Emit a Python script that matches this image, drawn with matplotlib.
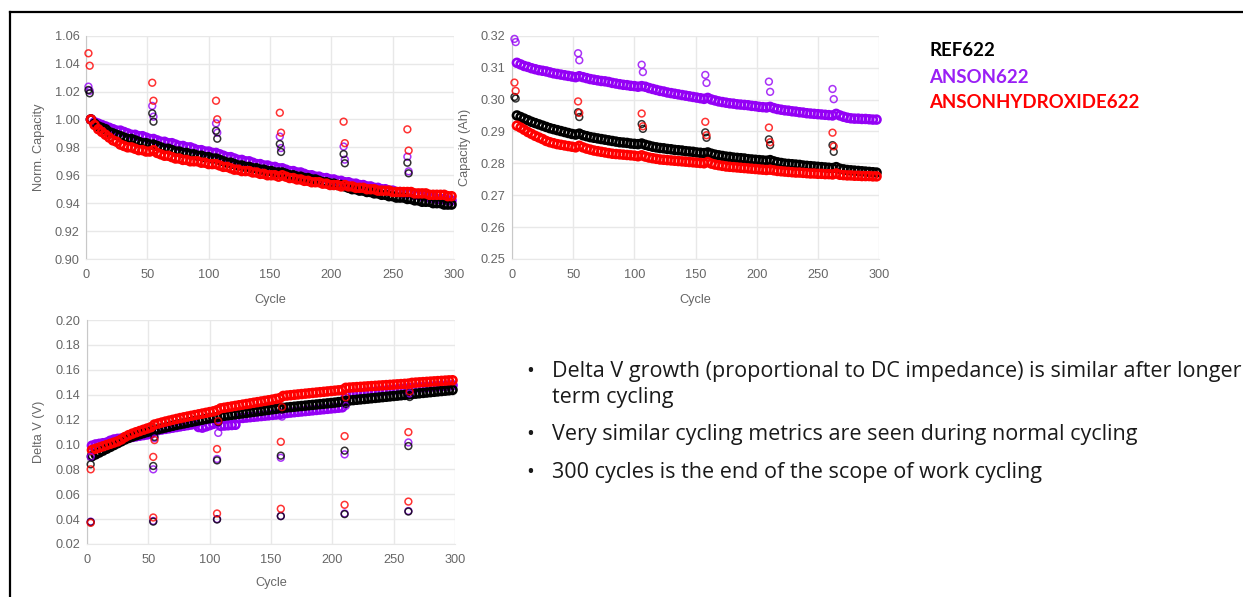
import matplotlib
matplotlib.use('Agg')
import matplotlib.pyplot as plt
from matplotlib.lines import Line2D
from matplotlib.ticker import FormatStrFormatter, MultipleLocator

# ---------------- data ----------------
SERIES = ['REF622', 'ANSON622', 'ANSONHYDROXIDE622']
COLORS = ['#000000', '#9400f5', '#ff0000']

CYCLES = list(range(4, 299, 3))

norm_ref = [1.000, 0.997, 0.995, 0.994, 0.993, 0.991, 0.990, 0.989, 0.988, 0.987, 0.986, 0.986, 0.985, 0.984, 0.983, 0.983, 0.982, 0.982,
            0.981, 0.980, 0.979, 0.979, 0.978, 0.977, 0.977, 0.976, 0.976, 0.975, 0.975, 0.974, 0.974, 0.973, 0.973, 0.972, 0.972,
            0.971, 0.970, 0.969, 0.969, 0.968, 0.967, 0.967, 0.966, 0.966, 0.965, 0.965, 0.964, 0.964, 0.963, 0.963, 0.962, 0.962,
            0.962, 0.961, 0.960, 0.960, 0.959, 0.959, 0.958, 0.958, 0.957, 0.957, 0.956, 0.955, 0.955, 0.954, 0.954, 0.953, 0.953,
            0.952, 0.951, 0.950, 0.950, 0.949, 0.949, 0.948, 0.948, 0.947, 0.947, 0.946, 0.946, 0.945, 0.945, 0.944, 0.944, 0.944,
            0.943, 0.943, 0.942, 0.942, 0.941, 0.941, 0.941, 0.940, 0.940, 0.940, 0.939, 0.939, 0.939]
norm_anson = [1.000, 0.998, 0.997, 0.996, 0.995, 0.994, 0.993, 0.992, 0.992, 0.991, 0.990, 0.989, 0.989, 0.988, 0.988, 0.987, 0.986, 0.986,
              0.985, 0.984, 0.984, 0.983, 0.983, 0.982, 0.981, 0.981, 0.980, 0.980, 0.979, 0.978, 0.978, 0.977, 0.977, 0.976, 0.976,
              0.975, 0.974, 0.973, 0.973, 0.972, 0.971, 0.971, 0.970, 0.970, 0.969, 0.968, 0.968, 0.967, 0.967, 0.966, 0.966, 0.965,
              0.965, 0.964, 0.963, 0.963, 0.962, 0.962, 0.961, 0.960, 0.960, 0.959, 0.959, 0.958, 0.958, 0.957, 0.957, 0.956, 0.956,
              0.955, 0.955, 0.954, 0.954, 0.953, 0.953, 0.952, 0.952, 0.951, 0.951, 0.950, 0.950, 0.949, 0.949, 0.948, 0.948, 0.947,
              0.947, 0.947, 0.946, 0.946, 0.945, 0.945, 0.944, 0.944, 0.943, 0.943, 0.943, 0.942, 0.942]
norm_hydrox = [1.000, 0.996, 0.993, 0.991, 0.989, 0.987, 0.985, 0.984, 0.982, 0.981, 0.980, 0.980, 0.979, 0.978, 0.978, 0.977, 0.977, 0.978,
               0.976, 0.975, 0.974, 0.974, 0.973, 0.972, 0.972, 0.971, 0.971, 0.970, 0.970, 0.970, 0.969, 0.969, 0.968, 0.968, 0.968,
               0.967, 0.966, 0.966, 0.965, 0.964, 0.964, 0.963, 0.963, 0.963, 0.962, 0.962, 0.961, 0.961, 0.960, 0.960, 0.960, 0.959,
               0.960, 0.959, 0.958, 0.958, 0.957, 0.957, 0.956, 0.956, 0.955, 0.955, 0.955, 0.954, 0.954, 0.953, 0.953, 0.953, 0.952,
               0.953, 0.952, 0.952, 0.951, 0.951, 0.951, 0.950, 0.950, 0.950, 0.949, 0.949, 0.949, 0.949, 0.948, 0.948, 0.948, 0.948,
               0.948, 0.948, 0.947, 0.947, 0.947, 0.947, 0.946, 0.946, 0.946, 0.946, 0.946, 0.945, 0.945]

cap_ref = [0.2950, 0.2945, 0.2940, 0.2935, 0.2930, 0.2926, 0.2922, 0.2918, 0.2914, 0.2910, 0.2907, 0.2904, 0.2901, 0.2898, 0.2895, 0.2892, 0.2890, 0.2893,
           0.2888, 0.2885, 0.2882, 0.2880, 0.2878, 0.2876, 0.2874, 0.2872, 0.2870, 0.2868, 0.2866, 0.2865, 0.2864, 0.2862, 0.2861, 0.2860, 0.2862,
           0.2858, 0.2855, 0.2852, 0.2850, 0.2848, 0.2847, 0.2845, 0.2844, 0.2842, 0.2841, 0.2840, 0.2838, 0.2837, 0.2836, 0.2834, 0.2833, 0.2832,
           0.2834, 0.2830, 0.2827, 0.2825, 0.2823, 0.2821, 0.2820, 0.2818, 0.2817, 0.2816, 0.2815, 0.2813, 0.2812, 0.2811, 0.2810, 0.2809, 0.2808,
           0.2810, 0.2806, 0.2803, 0.2801, 0.2799, 0.2798, 0.2797, 0.2796, 0.2795, 0.2793, 0.2792, 0.2791, 0.2790, 0.2789, 0.2788, 0.2787, 0.2786,
           0.2785, 0.2788, 0.2783, 0.2781, 0.2779, 0.2778, 0.2777, 0.2776, 0.2775, 0.2774, 0.2773, 0.2772, 0.2771]
cap_anson = [0.3115, 0.3110, 0.3105, 0.3102, 0.3098, 0.3095, 0.3092, 0.3090, 0.3088, 0.3085, 0.3082, 0.3080, 0.3078, 0.3076, 0.3074, 0.3072, 0.3070, 0.3073,
             0.3070, 0.3067, 0.3064, 0.3062, 0.3060, 0.3058, 0.3057, 0.3055, 0.3052, 0.3050, 0.3048, 0.3046, 0.3045, 0.3043, 0.3042, 0.3040, 0.3042,
             0.3040, 0.3036, 0.3033, 0.3030, 0.3027, 0.3025, 0.3022, 0.3020, 0.3018, 0.3016, 0.3014, 0.3012, 0.3010, 0.3008, 0.3006, 0.3004, 0.3002,
             0.3005, 0.3000, 0.2997, 0.2994, 0.2992, 0.2990, 0.2988, 0.2987, 0.2985, 0.2984, 0.2983, 0.2982, 0.2980, 0.2979, 0.2977, 0.2976, 0.2975,
             0.2977, 0.2973, 0.2970, 0.2968, 0.2966, 0.2965, 0.2963, 0.2962, 0.2960, 0.2959, 0.2957, 0.2956, 0.2955, 0.2954, 0.2953, 0.2952, 0.2951,
             0.2950, 0.2955, 0.2950, 0.2946, 0.2943, 0.2941, 0.2940, 0.2940, 0.2939, 0.2939, 0.2938, 0.2937, 0.2937]
cap_hydrox = [0.2918, 0.2912, 0.2905, 0.2898, 0.2892, 0.2886, 0.2881, 0.2876, 0.2870, 0.2866, 0.2863, 0.2860, 0.2858, 0.2856, 0.2854, 0.2852, 0.2850, 0.2855,
              0.2850, 0.2846, 0.2843, 0.2840, 0.2838, 0.2836, 0.2834, 0.2832, 0.2830, 0.2829, 0.2828, 0.2827, 0.2826, 0.2825, 0.2824, 0.2822, 0.2825,
              0.2821, 0.2818, 0.2816, 0.2814, 0.2812, 0.2811, 0.2810, 0.2809, 0.2808, 0.2807, 0.2806, 0.2805, 0.2804, 0.2803, 0.2802, 0.2801, 0.2800,
              0.2804, 0.2799, 0.2796, 0.2794, 0.2792, 0.2790, 0.2789, 0.2788, 0.2787, 0.2786, 0.2785, 0.2784, 0.2783, 0.2782, 0.2781, 0.2780, 0.2779,
              0.2780, 0.2778, 0.2776, 0.2775, 0.2774, 0.2773, 0.2772, 0.2771, 0.2771, 0.2770, 0.2769, 0.2768, 0.2768, 0.2767, 0.2767, 0.2766, 0.2766,
              0.2765, 0.2768, 0.2764, 0.2763, 0.2762, 0.2762, 0.2761, 0.2761, 0.2760, 0.2760, 0.2760, 0.2759, 0.2759]

dv_ref = [0.0905, 0.0920, 0.0935, 0.0950, 0.0965, 0.0980, 0.0995, 0.1010, 0.1025, 0.1040, 0.1052, 0.1063, 0.1073, 0.1082, 0.1091, 0.1100, 0.1107, 0.1115,
          0.1122, 0.1129, 0.1136, 0.1143, 0.1150, 0.1157, 0.1163, 0.1169, 0.1175, 0.1181, 0.1187, 0.1193, 0.1199, 0.1205, 0.1210, 0.1215, 0.1220,
          0.1225, 0.1230, 0.1234, 0.1238, 0.1242, 0.1246, 0.1250, 0.1254, 0.1258, 0.1262, 0.1266, 0.1270, 0.1274, 0.1278, 0.1282, 0.1286, 0.1290,
          0.1294, 0.1297, 0.1300, 0.1303, 0.1306, 0.1309, 0.1312, 0.1315, 0.1318, 0.1321, 0.1324, 0.1327, 0.1330, 0.1333, 0.1336, 0.1340, 0.1344,
          0.1350, 0.1353, 0.1356, 0.1359, 0.1362, 0.1365, 0.1368, 0.1371, 0.1374, 0.1377, 0.1380, 0.1383, 0.1386, 0.1389, 0.1392, 0.1395, 0.1398,
          0.1402, 0.1405, 0.1408, 0.1411, 0.1414, 0.1417, 0.1420, 0.1423, 0.1426, 0.1429, 0.1432, 0.1435, 0.1438]
dv_anson = [0.0990, 0.1000, 0.1005, 0.1010, 0.1015, 0.1030, 0.1040, 0.1045, 0.1048, 0.1052, 0.1056, 0.1060, 0.1065, 0.1070, 0.1075, 0.1080, 0.1085, 0.1110,
            0.1115, 0.1120, 0.1125, 0.1130, 0.1135, 0.1140, 0.1145, 0.1150, 0.1155, 0.1160, 0.1165, 0.1140, 0.1135, 0.1145, 0.1155, 0.1165, 0.1175,
            0.1150, 0.1152, 0.1154, 0.1156, 0.1158, 0.1210, 0.1213, 0.1216, 0.1219, 0.1222, 0.1225, 0.1228, 0.1231, 0.1234, 0.1237, 0.1240, 0.1243,
            0.1250, 0.1253, 0.1256, 0.1259, 0.1262, 0.1265, 0.1268, 0.1271, 0.1274, 0.1277, 0.1280, 0.1283, 0.1286, 0.1289, 0.1292, 0.1295, 0.1298,
            0.1400, 0.1403, 0.1406, 0.1409, 0.1412, 0.1415, 0.1418, 0.1421, 0.1424, 0.1427, 0.1430, 0.1433, 0.1436, 0.1439, 0.1442, 0.1445, 0.1448,
            0.1451, 0.1454, 0.1456, 0.1458, 0.1460, 0.1462, 0.1464, 0.1466, 0.1468, 0.1470, 0.1472, 0.1474, 0.1476]
dv_hydrox = [0.0955, 0.0965, 0.0975, 0.0985, 0.0995, 0.1005, 0.1015, 0.1025, 0.1040, 0.1060, 0.1075, 0.1087, 0.1098, 0.1108, 0.1118, 0.1128, 0.1138, 0.1160,
             0.1168, 0.1176, 0.1184, 0.1191, 0.1198, 0.1205, 0.1212, 0.1218, 0.1224, 0.1230, 0.1236, 0.1242, 0.1248, 0.1254, 0.1260, 0.1266, 0.1275,
             0.1290, 0.1295, 0.1300, 0.1305, 0.1310, 0.1315, 0.1320, 0.1325, 0.1330, 0.1335, 0.1340, 0.1345, 0.1350, 0.1355, 0.1360, 0.1366, 0.1372,
             0.1390, 0.1393, 0.1396, 0.1399, 0.1402, 0.1405, 0.1408, 0.1411, 0.1414, 0.1417, 0.1420, 0.1423, 0.1426, 0.1429, 0.1432, 0.1435, 0.1438,
             0.1455, 0.1457, 0.1459, 0.1461, 0.1463, 0.1465, 0.1467, 0.1469, 0.1471, 0.1473, 0.1475, 0.1477, 0.1479, 0.1481, 0.1483, 0.1485, 0.1487,
             0.1489, 0.1495, 0.1497, 0.1499, 0.1501, 0.1503, 0.1505, 0.1507, 0.1509, 0.1511, 0.1513, 0.1515, 0.1516]

# reference performance test (RPT) points
RPT_CYC = [2, 3, 54, 55, 106, 107, 158, 159, 210, 211, 262, 263]
norm_rpt_ref = [1.0211, 1.0187, 1.0044, 0.9984, 0.9919, 0.9862, 0.9824, 0.9767, 0.9752, 0.9686, 0.9690, 0.9614]
norm_rpt_anson = [1.0235, 1.0205, 1.0097, 1.0020, 0.9972, 0.9905, 0.9877, 0.9795, 0.9806, 0.9712, 0.9733, 0.9628]
norm_rpt_hydrox = [1.0474, 1.0385, 1.0263, 1.0134, 1.0134, 1.0001, 1.0048, 0.9905, 0.9984, 0.9830, 0.9929, 0.9777]
cap_rpt_ref = [0.3008, 0.3003, 0.2960, 0.2945, 0.2923, 0.2908, 0.2897, 0.2880, 0.2875, 0.2857, 0.2857, 0.2836]
cap_rpt_anson = [0.3190, 0.3180, 0.3145, 0.3123, 0.3109, 0.3086, 0.3077, 0.3052, 0.3056, 0.3024, 0.3033, 0.3001]
cap_rpt_hydrox = [0.3053, 0.3027, 0.2994, 0.2958, 0.2956, 0.2916, 0.2930, 0.2888, 0.2912, 0.2866, 0.2896, 0.2853]

DV_RPT_CYC = [3, 3, 54, 54, 55, 106, 106, 107, 158, 158, 159, 210, 210, 211, 262, 262, 263]
dv_rpt_ref = [0.0376, 0.0840, 0.0380, 0.0827, 0.1060, 0.0397, 0.0872, 0.1180, 0.0424, 0.0910, 0.1280, 0.0440, 0.0950, 0.1325, 0.0461, 0.0987, 0.1381]
dv_rpt_anson = [0.0380, 0.0900, 0.0385, 0.0800, 0.1050, 0.0400, 0.0883, 0.1093, 0.0425, 0.0893, 0.1224, 0.0445, 0.0920, 0.1310, 0.0465, 0.1016, 0.1410]
dv_rpt_hydrox = [0.0370, 0.0800, 0.0413, 0.0900, 0.1035, 0.0445, 0.0963, 0.1187, 0.0483, 0.1021, 0.1300, 0.0515, 0.1067, 0.1379, 0.0541, 0.1099, 0.1427]

BULLETS = [["Delta V growth (proportional to DC impedance) is similar after longer", "term cycling"],
           ["Very similar cycling metrics are seen during normal cycling"],
           ["300 cycles is the end of the scope of work cycling"]]

# ---------------- figure ----------------
W, H = 1243, 597
fig = plt.figure(figsize=(W / 100, H / 100), dpi=100)
GRAY = '#666666'
CHART_FONT = ['Liberation Sans', 'DejaVu Sans']


def px_axes(x0, y0, x1, y1):
    return fig.add_axes([x0 / W, 1 - y1 / H, (x1 - x0) / W, (y1 - y0) / H])


def style(ax, ylim, ystep, ylabel, ylab_x, xlab_y):
    ax.set_xlim(0, 300)
    ax.set_ylim(*ylim)
    ax.xaxis.set_major_locator(MultipleLocator(50))
    ax.yaxis.set_major_locator(MultipleLocator(ystep))
    ax.yaxis.set_major_formatter(FormatStrFormatter('%.2f'))
    ax.grid(True, color='#e8e8e8', lw=1)
    ax.set_axisbelow(True)
    for s in ['top', 'right']:
        ax.spines[s].set_visible(False)
    ax.spines['bottom'].set_color('#e8e8e8')
    ax.spines['left'].set_color('#c8c8c8')
    ax.tick_params(axis='both', length=0, colors=GRAY, labelsize=9.2)
    ax.tick_params(axis='y', pad=4.5)
    ax.tick_params(axis='x', pad=7.5)
    for lab in ax.get_xticklabels() + ax.get_yticklabels():
        lab.set_family(CHART_FONT)
    ax.set_ylabel(ylabel, color=GRAY, fontsize=9.2, family=CHART_FONT)
    ax.yaxis.set_label_coords(ylab_x, 0.5)
    ax.set_xlabel('Cycle', color=GRAY, fontsize=9.2, family=CHART_FONT, va='center')
    ax.xaxis.set_label_coords(0.5, xlab_y)


def draw(ax, main, rpt_x, rpt):
    order = [1, 0, 2]
    for i in order:
        ys = main[i]
        ax.scatter(CYCLES[:len(ys)], ys, s=32, facecolors='none', edgecolors=COLORS[i],
                   linewidths=1.9, clip_on=False, zorder=3)
    for i in order:
        ys = rpt[i]
        ax.scatter(rpt_x[:len(ys)], ys, s=24, facecolors='none', edgecolors=COLORS[i],
                   linewidths=1.1, alpha=0.8, clip_on=False, zorder=4)


ax1 = px_axes(86, 35.7, 454, 259)
style(ax1, (0.90, 1.06), 0.02, 'Norm. Capacity', -0.111, -0.182)
draw(ax1, [norm_ref, norm_anson, norm_hydrox], RPT_CYC, [norm_rpt_ref, norm_rpt_anson, norm_rpt_hydrox])

ax2 = px_axes(512, 35.7, 879, 259)
style(ax2, (0.25, 0.32), 0.01, 'Capacity (Ah)', -0.112, -0.182)
draw(ax2, [cap_ref, cap_anson, cap_hydrox], RPT_CYC, [cap_rpt_ref, cap_rpt_anson, cap_rpt_hydrox])

ax3 = px_axes(87, 320, 455, 544)
style(ax3, (0.02, 0.20), 0.02, 'Delta V (V)', -0.114, -0.175)
draw(ax3, [dv_ref, dv_anson, dv_hydrox], DV_RPT_CYC, [dv_rpt_ref, dv_rpt_anson, dv_rpt_hydrox])

# legend text
LEG_FONT = ['Lato', 'DejaVu Sans']
LEG_COLORS = ['#000000', '#9a1ff5', '#ff0000']
legend_y = [56, 83, 108]
for name, col, yb in zip(SERIES, LEG_COLORS, legend_y):
    fig.text(929 / W, 1 - yb / H, name, color=col, fontsize=13.4, fontweight='bold',
             family=LEG_FONT, va='baseline', ha='left')

# bullet text
TEXT_FONT = ['Open Sans', 'DejaVu Sans']
bullet_y = [[377, 403], [440], [478]]
for lines, ys in zip(BULLETS, bullet_y):
    fig.text(526 / W, 1 - ys[0] / H, '•', color='#1a1a1a', fontsize=15, family=TEXT_FONT, va='baseline')
    for txt, yb in zip(lines, ys):
        fig.text(552 / W, 1 - yb / H, txt, color='#1a1a1a', fontsize=15.5, family=TEXT_FONT,
                 va='baseline', ha='left')

# slide border
fig.add_artist(Line2D([10 / W, 10 / W], [0, 1 - 12 / H], color='black', lw=1.6, transform=fig.transFigure))
fig.add_artist(Line2D([10 / W, 1], [1 - 12 / H, 1 - 12 / H], color='black', lw=1.6, transform=fig.transFigure))

fig.savefig('out.png', dpi=100)
